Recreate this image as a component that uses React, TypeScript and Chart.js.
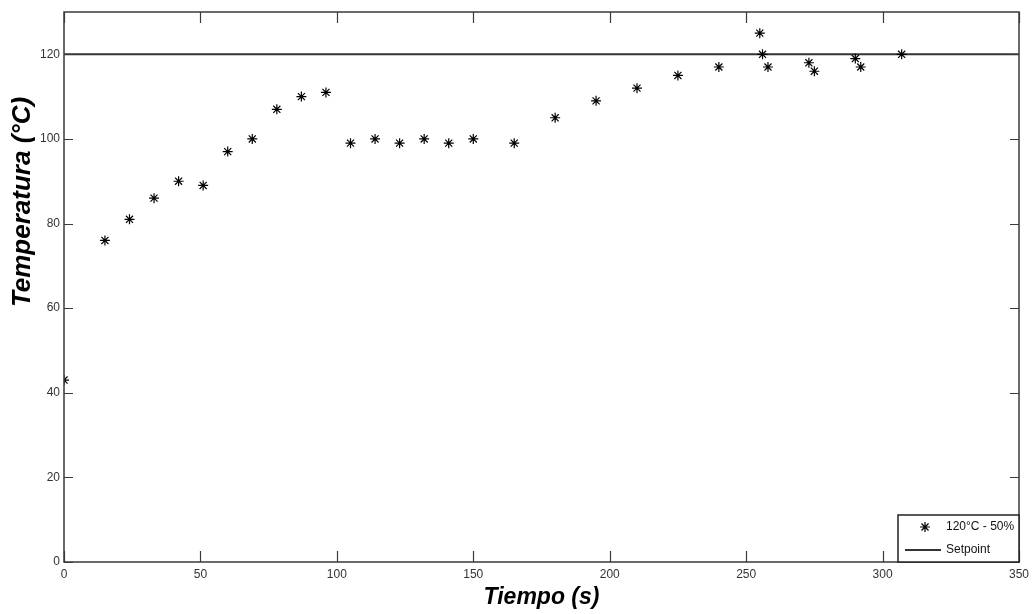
import React, { useEffect, useRef } from "react";
import { Chart, registerables } from "chart.js";
import { drawPoint } from "chart.js/helpers";

Chart.register(...registerables);

// Data
const timeValues = [0, 15, 24, 33, 42, 51, 60, 69, 78, 87, 96, 105, 114, 123, 132, 141, 150, 165, 180, 195, 210, 225, 240, 255, 256, 258, 273, 275, 290, 292, 307];
const tempValues = [43, 76, 81, 86, 90, 89, 97, 100, 107, 110, 111, 99, 100, 99, 100, 99, 100, 99, 105, 109, 112, 115, 117, 125, 120, 117, 118, 116, 119, 117, 120];
const setpointX = [0, 350];
const setpointY = [120, 120];
const xTicks = [0, 50, 100, 150, 200, 250, 300, 350];
const yTicks = [0, 20, 40, 60, 80, 100, 120];
const seriesLabel = "120°C - 50%";
const setpointLabel = "Setpoint";
const xTitle = "Tiempo (s)";
const yTitle = "Temperatura (°C)";

const FONT = "'Liberation Sans', Arial, sans-serif";

const framePlugin = {
  id: "matlabFrame",
  afterDraw(chart: any) {
    const { ctx, chartArea } = chart;
    const { left, right, top, bottom } = chartArea;
    const xs = chart.scales.x;
    const ys = chart.scales.y;
    ctx.save();
    // box
    ctx.strokeStyle = "#3a3a3a";
    ctx.lineWidth = 1.5;
    ctx.strokeRect(left, top, right - left, bottom - top);
    // inward ticks
    ctx.lineWidth = 1.2;
    ctx.beginPath();
    xs.ticks.forEach((t: any) => {
      const px = Math.round(xs.getPixelForValue(t.value)) + 0.5;
      ctx.moveTo(px, bottom);
      ctx.lineTo(px, bottom - 11);
      ctx.moveTo(px, top);
      ctx.lineTo(px, top + 11);
    });
    ys.ticks.forEach((t: any) => {
      const py = Math.round(ys.getPixelForValue(t.value)) + 0.5;
      ctx.moveTo(left, py);
      ctx.lineTo(left + 9, py);
      ctx.moveTo(right, py);
      ctx.lineTo(right - 9, py);
    });
    ctx.stroke();

    // y title
    ctx.fillStyle = "#000";
    ctx.font = `italic bold 26px ${FONT}`;
    ctx.textAlign = "center";
    ctx.textBaseline = "middle";
    ctx.translate(23, 202);
    ctx.rotate(-Math.PI / 2);
    ctx.fillText(yTitle, 0, 0);
    ctx.restore();

    // legend
    ctx.save();
    const w = 121;
    const h = 47;
    const lx = right - w;
    const ly = bottom - h;
    ctx.fillStyle = "#fff";
    ctx.fillRect(lx, ly, w, h);
    ctx.strokeStyle = "#222";
    ctx.lineWidth = 1.5;
    ctx.strokeRect(lx, ly, w, h);
    // marker
    const ds0 = chart.data.datasets[0];
    ctx.strokeStyle = "#000";
    ctx.fillStyle = "#000";
    ctx.lineWidth = 1.2;
    drawPoint(ctx, { pointStyle: ds0.pointStyle, radius: ds0.pointRadius, borderWidth: 1.2, rotation: 0 } as any, lx + 27, ly + 12);
    // line
    ctx.strokeStyle = "#333";
    ctx.lineWidth = 2;
    ctx.beginPath();
    ctx.moveTo(lx + 7, ly + 35);
    ctx.lineTo(lx + 43, ly + 35);
    ctx.stroke();
    ctx.fillStyle = "#111";
    ctx.font = `12px ${FONT}`;
    ctx.textAlign = "left";
    ctx.textBaseline = "middle";
    ctx.fillText(seriesLabel, lx + 48, ly + 12);
    ctx.fillText(setpointLabel, lx + 48, ly + 35);
    ctx.restore();
  },
};

export default function App() {
  const canvasRef = useRef<HTMLCanvasElement | null>(null);

  useEffect(() => {
    if (!canvasRef.current) return;
    const chart = new Chart(canvasRef.current, {
      type: "scatter",
      data: {
        datasets: [
          {
            label: seriesLabel,
            data: timeValues.map((x, i) => ({ x, y: tempValues[i] })),
            pointStyle: "star",
            pointRadius: 5,
            pointBorderWidth: 1.2,
            borderColor: "#000",
            backgroundColor: "#000",
            showLine: false,
          },
          {
            label: setpointLabel,
            data: setpointX.map((x, i) => ({ x, y: setpointY[i] })),
            showLine: true,
            borderColor: "#333",
            borderWidth: 2,
            pointRadius: 0,
            pointHoverRadius: 0,
          },
        ],
      },
      options: {
        animation: false,
        responsive: false,
        events: [],
        layout: { padding: { top: 12, right: 13, left: 0, bottom: 0 } },
        plugins: { legend: { display: false }, tooltip: { enabled: false } },
        scales: {
          x: {
            type: "linear",
            min: 0,
            max: 350,
            afterBuildTicks: (s: any) => {
              s.ticks = xTicks.map((v) => ({ value: v }));
            },
            afterFit: (s: any) => {
              s.height = 52;
              s.paddingLeft = 0;
              s.paddingRight = 0;
            },
            grid: { display: false, drawTicks: false },
            border: { display: false },
            ticks: {
              padding: 5,
              color: "#333",
              font: { family: FONT, size: 12 },
              maxRotation: 0,
            },
            title: {
              display: true,
              text: xTitle,
              color: "#000",
              font: { family: FONT, size: 23, weight: "bold", style: "italic" },
              padding: { top: 0, bottom: 3 },
            },
          },
          y: {
            type: "linear",
            min: 0,
            max: 130,
            afterBuildTicks: (s: any) => {
              s.ticks = yTicks.map((v) => ({ value: v }));
            },
            afterFit: (s: any) => {
              s.width = 64;
              s.paddingTop = 0;
              s.paddingBottom = 0;
            },
            grid: { display: false, drawTicks: false },
            border: { display: false },
            ticks: {
              padding: 4,
              color: "#333",
              font: { family: FONT, size: 12 },
            },
          },
        },
      },
      plugins: [framePlugin],
    });
    return () => chart.destroy();
  }, []);

  return (
    <div style={{ position: "fixed", left: 0, top: 0, width: 1032, height: 614, background: "#fff" }}>
      <canvas ref={canvasRef} width={1032} height={614} style={{ display: "block", width: 1032, height: 614 }} />
    </div>
  );
}
